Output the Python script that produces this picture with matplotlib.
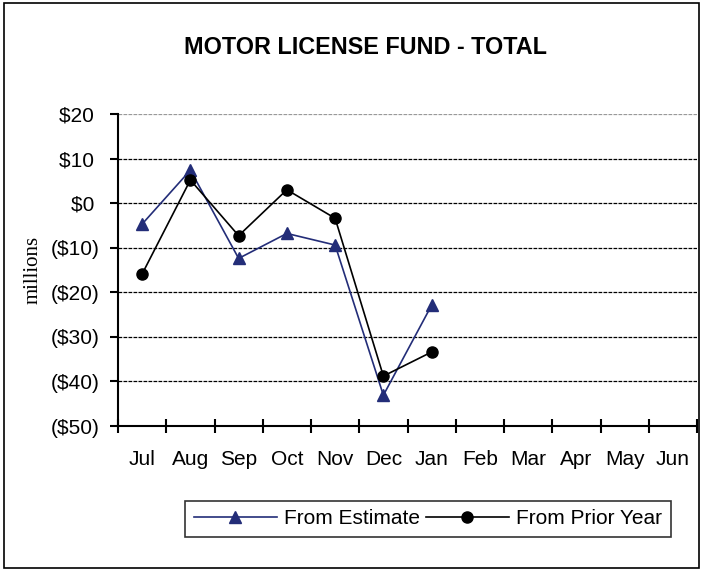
import matplotlib.pyplot as plt
from matplotlib.patches import Rectangle

months = ["Jul", "Aug", "Sep", "Oct", "Nov", "Dec", "Jan", "Feb", "Mar", "Apr", "May", "Jun"]
from_estimate = [-4.7, 7.4, -12.4, -6.8, -9.4, -43.1, -22.9]
from_prior_year = [-15.9, 5.2, -7.3, 3.0, -3.4, -38.8, -33.4]
y_ticks = [20, 10, 0, -10, -20, -30, -40, -50]

plt.rcParams["font.family"] = ["Liberation Sans", "DejaVu Sans"]

fig = plt.figure(figsize=(7.02, 5.71), dpi=100)
ax = fig.add_axes([118 / 702, 1 - 426 / 571, 579 / 702, 312 / 571])

# figure border
fig.patches.append(Rectangle((4 / 702, 3 / 571), 695 / 702, 565 / 571,
                             transform=fig.transFigure, fill=False,
                             edgecolor="black", lw=1.2))

x_est = range(len(from_estimate))
x_py = range(len(from_prior_year))
ax.plot(x_est, from_estimate, color="#232d78", lw=1.2, marker="^", ms=9,
        label="From Estimate")
ax.plot(x_py, from_prior_year, color="black", lw=1.2, marker="o", ms=8,
        label="From Prior Year")

ax.set_xlim(-0.5, len(months) - 0.5)
ax.set_ylim(-50, 20)


def money(v):
    return f"${v}" + " " if v >= 0 else f"(${-v})"


ax.set_yticks(y_ticks)
ax.set_yticklabels([money(v) for v in y_ticks], fontsize=15)
ax.tick_params(axis="y", direction="out", length=6, width=1.5, pad=7)

ax.set_xticks([i - 0.5 for i in range(len(months) + 1)])
ax.set_xticklabels([])
ax.set_xticks(range(len(months)), minor=True)
ax.set_xticklabels(months, minor=True, fontsize=15)
ax.tick_params(axis="x", which="major", direction="inout", length=10, width=1.5)
ax.tick_params(axis="x", which="minor", length=0, pad=17)

ax.grid(axis="y", color="black", linestyle=(0, (3, 1)), lw=0.9)
ax.yaxis.get_gridlines()[0].set_color("#999999")
ax.set_axisbelow(True)

for s in ["top", "right"]:
    ax.spines[s].set_visible(False)
ax.spines["left"].set_linewidth(1.5)
ax.spines["bottom"].set_linewidth(1.5)

ax.set_ylabel("millions", family="Liberation Serif", fontsize=15)
ax.yaxis.set_label_coords(-0.131, 0.5)

fig.text(0.52, 1 - 48 / 571, "MOTOR LICENSE FUND - TOTAL", ha="center",
         va="center", fontsize=16.8, fontweight="bold")

leg = fig.legend(loc="center", bbox_to_anchor=(428 / 702, 1 - 519 / 571), ncol=2,
                 fontsize=15, frameon=True, fancybox=False, edgecolor="black",
                 handlelength=4.0, handletextpad=0.35, columnspacing=0.25,
                 borderpad=0.4, borderaxespad=0)
leg.get_frame().set_linewidth(1.2)

fig.savefig("out.png", dpi=100)
